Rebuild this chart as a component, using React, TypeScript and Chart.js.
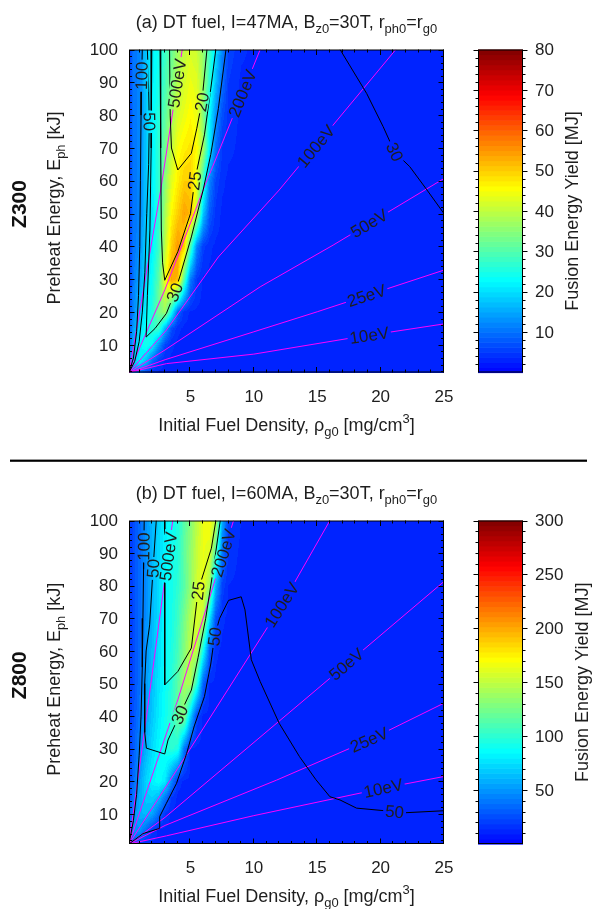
import React, { useEffect, useRef } from 'react';
import { Chart, registerables } from 'chart.js';

Chart.register(...registerables);

type Pt = [number, number];
type Seg = [string, number?];

const FONT = '"Liberation Sans", Arial, Helvetica, sans-serif';
const INK = '#1e1e1e';
const MAGENTA = '#ff00ff';

const X_MIN = 0.15;
const X_MAX = 25;
const Y_MAX = 100;
const X_MAJOR = [5, 10, 15, 20, 25];
const Y_MAJOR = [10, 20, 30, 40, 50, 60, 70, 80, 90, 100];
const X_MINOR_STEP = 1;
const Y_MINOR_STEP = 2;

const X_TITLE: Seg[] = [['Initial Fuel Density, \u03c1'], ['g0', 1], [' [mg/cm'], ['3', 2], [']']];
const Y_TITLE: Seg[] = [['Preheat Energy, E'], ['ph', 1], [' [kJ]']];
const CB_TITLE = 'Fusion Energy Yield [MJ]';

// grid columns of the yield maps (initial fuel density, mg/cm3)
const GRID_X = [0.15, 0.5, 1, 1.5, 2, 2.5, 3, 3.5, 4, 4.5, 5, 5.5, 6, 6.5, 7, 7.5, 8, 9, 10, 25];

// ---------------- panel (a) Z300 ----------------
const A_TITLE: Seg[] = [['(a) DT fuel, I=47MA, B'], ['z0', 1], ['=30T, r'], ['ph0', 1], ['=r'], ['g0', 1]];
const A_Y_MIN = 1.6;
const A_GRID_Y = [1.6, 5, 10, 15, 20, 30, 40, 50, 60, 70, 80, 90, 100];
const A_YIELD = [
  [12, 12, 9, 6, 4, 3.5, 3.5, 3.5, 3.5, 3.5, 3.5, 3.5, 3.5, 3.5, 3.5, 3.5, 3.5, 3.5, 3.5, 3.5],
  [10, 18, 22, 17, 9, 5, 3.5, 3.5, 3.5, 3.5, 3.5, 3.5, 3.5, 3.5, 3.5, 3.5, 3.5, 3.5, 3.5, 3.5],
  [8, 16, 22, 25, 22, 13, 6, 4, 3.5, 3.5, 3.5, 3.5, 3.5, 3.5, 3.5, 3.5, 3.5, 3.5, 3.5, 3.5],
  [7, 14, 20, 24, 27, 28, 16, 7, 4, 3.5, 3.5, 3.5, 3.5, 3.5, 3.5, 3.5, 3.5, 3.5, 3.5, 3.5],
  [6, 12, 18, 22, 26, 33, 37, 24, 9, 4.5, 3.5, 3.5, 3.5, 3.5, 3.5, 3.5, 3.5, 3.5, 3.5, 3.5],
  [5, 11, 15, 20, 24, 31, 44, 54, 52, 30, 11, 5, 3.5, 3.5, 3.5, 3.5, 3.5, 3.5, 3.5, 3.5],
  [5, 10, 13, 19, 22, 28, 40, 50, 55, 50, 30, 12, 5.5, 4, 3.5, 3.5, 3.5, 3.5, 3.5, 3.5],
  [5, 10, 12, 18, 21, 27, 38, 46, 50, 54, 52, 40, 18, 8, 4.5, 3.5, 3.5, 3.5, 3.5, 3.5],
  [5, 10, 12, 18, 22, 27, 35, 43, 47, 50, 50, 44, 28, 12, 6, 4, 3.5, 3.5, 3.5, 3.5],
  [5, 10, 12, 18, 22, 27, 33, 40, 45, 47, 48, 46, 38, 22, 10, 5, 4, 3.5, 3.5, 3.5],
  [5, 10, 12, 18, 22, 26, 31, 37, 42, 44, 46, 44, 35, 23, 13, 7, 4.5, 3.5, 3.5, 3.5],
  [5, 10, 12, 18, 22, 25, 29, 34, 39, 42, 44, 43, 37, 27, 17, 10, 5, 3.5, 3.5, 3.5],
  [5, 10, 12, 18, 22, 24, 28, 32, 37, 40, 42, 41, 36, 28, 20, 12, 6, 4, 3.5, 3.5],
];
const A_CB_MAX = 80;
const A_CB_TICKS = [10, 20, 30, 40, 50, 60, 70, 80];
const A_CB_MINOR_STEP = 2;

const A_C100: Pt[] = [[1.2, 100], [1.15, 92], [1.1, 80], [1.05, 60], [1.0, 40], [0.9, 25], [0.75, 14], [0.5, 6], [0.15, 1.6]];
const A_C50: Pt[] = [[1.6, 100], [1.7, 88], [1.75, 78], [1.7, 65], [1.55, 50], [1.4, 32], [1.2, 20], [0.95, 11], [0.6, 5], [0.15, 1.6]];
const A_C30: Pt[] = [[1.95, 100], [1.9, 70], [1.8, 45], [1.6, 25], [1.5, 12.4], [2.2, 15], [3.1, 19.6], [3.76, 26], [4.15, 30.7], [5.07, 42.9], [6.0, 57.2], [6.6, 68], [7.2, 82], [7.8, 100]];
const A_C25: Pt[] = [[2.6, 100], [2.65, 70], [2.7, 45], [2.8, 35], [2.97, 29.7], [4.0, 38.4], [5.0, 50], [5.33, 60], [6.1, 74], [6.6, 88], [7.0, 100]];
const A_C20: Pt[] = [[3.35, 100], [3.4, 80], [3.5, 70], [4.0, 63.3], [5.07, 68.4], [5.5, 76], [5.9, 84], [6.3, 100]];
const A_C30R: Pt[] = [[16.8, 100], [18.9, 86.6], [20.2, 76.5], [21.1, 68.8], [22.3, 64.3], [23.6, 57.5], [25, 50]];

const A_T10: Pt[] = [[0.15, 1.6], [3.1, 4.3], [10, 7.2], [17.5, 12], [25, 16.4]];
const A_T25: Pt[] = [[0.15, 1.6], [3, 5.5], [10, 14], [15, 20.1], [25, 32.8]];
const A_T50: Pt[] = [[0.15, 1.6], [3, 8.5], [10.5, 27.7], [16.25, 40.4], [25, 60.7]];
const A_T100: Pt[] = [[0.15, 1.6], [3.1, 14.5], [7.2, 36.8], [12, 57.2], [21.2, 100]];
const A_T200: Pt[] = [[0.15, 1.6], [3, 27], [6, 57.2], [10.5, 100]];
const A_T500: Pt[] = [[0.15, 1.6], [1.3, 27], [2.65, 57.2], [4.35, 100]];

// ---------------- panel (b) Z800 ----------------
const B_TITLE: Seg[] = [['(b) DT fuel, I=60MA, B'], ['z0', 1], ['=30T, r'], ['ph0', 1], ['=r'], ['g0', 1]];
const B_Y_MIN = 0.8;
const B_GRID_Y = [0.8, 5, 10, 15, 20, 30, 40, 50, 60, 70, 80, 90, 100];
const B_YIELD = [
  [35, 30, 18, 13, 13, 13, 13, 13, 13, 13, 13, 13, 13, 13, 13, 13, 13, 13, 13, 13],
  [30, 50, 50, 35, 18, 13, 13, 13, 13, 13, 13, 13, 13, 13, 13, 13, 13, 13, 13, 13],
  [25, 45, 60, 62, 55, 35, 18, 13, 13, 13, 13, 13, 13, 13, 13, 13, 13, 13, 13, 13],
  [22, 40, 58, 68, 70, 62, 40, 18, 13, 13, 13, 13, 13, 13, 13, 13, 13, 13, 13, 13],
  [20, 35, 55, 72, 82, 88, 80, 45, 16, 13, 13, 13, 13, 13, 13, 13, 13, 13, 13, 13],
  [18, 30, 45, 60, 75, 85, 92, 100, 95, 40, 14, 13, 13, 13, 13, 13, 13, 13, 13, 13],
  [17, 27, 40, 55, 68, 80, 90, 100, 120, 130, 70, 22, 13, 13, 13, 13, 13, 13, 13, 13],
  [16, 25, 37, 52, 65, 78, 88, 98, 115, 140, 145, 100, 32, 14, 13, 13, 13, 13, 13, 13],
  [16, 25, 36, 50, 63, 76, 86, 95, 108, 130, 150, 150, 90, 32, 15, 13, 13, 13, 13, 13],
  [16, 25, 35, 48, 62, 75, 85, 92, 105, 125, 145, 160, 150, 80, 27, 15, 13, 13, 13, 13],
  [16, 25, 35, 48, 62, 75, 85, 92, 100, 115, 135, 155, 165, 140, 60, 22, 14, 13, 13, 13],
  [16, 25, 35, 48, 62, 73, 83, 90, 97, 118, 135, 152, 165, 160, 110, 40, 17, 13, 13, 13],
  [16, 25, 35, 50, 62, 72, 82, 88, 95, 115, 130, 150, 165, 170, 150, 60, 20, 14, 13, 13],
];
const B_CB_MAX = 300;
const B_CB_TICKS = [50, 100, 150, 200, 250, 300];
const B_CB_MINOR_STEP = 10;

const B_C100: Pt[] = [[1.35, 100], [1.32, 92], [1.3, 85], [1.25, 70], [1.2, 55], [1.1, 40], [0.95, 28], [0.75, 16], [0.5, 8], [0.15, 0.8]];
const B_C50L: Pt[] = [[2.3, 100], [2.05, 85.3], [1.78, 68], [1.5, 60], [1.39, 50], [1.39, 35], [1.52, 30.2], [2.97, 28.4], [3.23, 32.7], [4.15, 40.4], [5.07, 48], [5.6, 58], [6.2, 70], [6.8, 85], [7.35, 100]];
const B_C25: Pt[] = [[2.97, 100], [2.97, 75], [2.97, 49.6], [4.0, 53.7], [5.07, 60.9], [5.6, 78.5], [6.65, 91.5], [7.0, 100]];
const B_C50R: Pt[] = [[0.15, 0.8], [1.26, 4.0], [2.57, 5.6], [2.57, 9.2], [3.1, 13.3], [3.9, 19.4], [4.7, 28.6], [5.3, 37], [6.1, 46], [6.6, 56], [6.9, 64.4], [7.3, 70], [8.0, 75.5], [9.0, 76.6], [9.3, 72.6], [9.8, 57.3], [10.5, 50.6], [12.0, 37.8], [13.6, 27.6], [14.9, 20.5], [16.0, 15.3], [16.8, 14.3], [18.1, 11.8], [22, 10.4], [25, 11.0]];

const B_T10: Pt[] = [[0.15, 0.8], [3.1, 3.3], [10, 9.5], [20.2, 17.9], [25, 21.5]];
const B_T25: Pt[] = [[0.15, 0.8], [3, 6.5], [11.8, 20.4], [19.1, 32.7], [25, 44]];
const B_T50: Pt[] = [[0.15, 0.8], [3, 9], [14.9, 48], [25, 81.3]];
const B_T100: Pt[] = [[0.15, 0.8], [4, 24], [12.2, 74.1], [16, 100]];
const B_T200: Pt[] = [[0.15, 0.8], [4, 45], [8.4, 100]];
const B_T500: Pt[] = [[0.15, 0.8], [1.6, 42], [3.6, 100]];

interface Label { t: string; x: number; y: number; line: Pt[]; }

const A_LABELS: Label[] = [
  { t: '100', x: 1.15, y: 92, line: A_C100 },
  { t: '50', x: 1.75, y: 78, line: A_C50 },
  { t: '20', x: 5.9, y: 84, line: A_C20 },
  { t: '25', x: 5.33, y: 60, line: A_C25 },
  { t: '30', x: 3.76, y: 26, line: A_C30 },
  { t: '30', x: 21.1, y: 68.8, line: A_C30R },
  { t: '500eV', x: 3.94, y: 89.7, line: A_T500 },
  { t: '200eV', x: 9.1, y: 86.6, line: A_T200 },
  { t: '100eV', x: 14.9, y: 70.5, line: A_T100 },
  { t: '50eV', x: 19.1, y: 47, line: A_T50 },
  { t: '25eV', x: 18.9, y: 25, line: A_T25 },
  { t: '10eV', x: 19.1, y: 12.9, line: A_T10 },
];

const B_LABELS: Label[] = [
  { t: '100', x: 1.32, y: 92, line: B_C100 },
  { t: '50', x: 2.05, y: 85.3, line: B_C50L },
  { t: '30', x: 4.15, y: 40.4, line: B_C50L },
  { t: '25', x: 5.6, y: 78.5, line: B_C25 },
  { t: '50', x: 6.9, y: 64.4, line: B_C50R },
  { t: '50', x: 21.1, y: 10.7, line: B_C50R },
  { t: '500eV', x: 3.25, y: 89, line: B_T500 },
  { t: '200eV', x: 7.6, y: 90, line: B_T200 },
  { t: '100eV', x: 12.2, y: 74.1, line: B_T100 },
  { t: '50eV', x: 17.3, y: 55.9, line: B_T50 },
  { t: '25eV', x: 19.1, y: 32.7, line: B_T25 },
  { t: '10eV', x: 20.2, y: 17.9, line: B_T10 },
];

interface Panel {
  title: Seg[]; machine: string; yMin: number; gridY: number[]; yieldRows: number[][];
  cbMax: number; cbTicks: number[]; cbMinorStep: number;
  contours: Pt[][]; temps: Pt[][]; labels: Label[];
  canvasTop: number; canvasH: number; plotTop: number; plotBottom: number;
  cbTitleX: number; separator: boolean;
}

const PANEL_A: Panel = {
  title: A_TITLE, machine: 'Z300', yMin: A_Y_MIN, gridY: A_GRID_Y, yieldRows: A_YIELD,
  cbMax: A_CB_MAX, cbTicks: A_CB_TICKS, cbMinorStep: A_CB_MINOR_STEP,
  contours: [A_C100, A_C50, A_C30, A_C25, A_C20, A_C30R],
  temps: [A_T10, A_T25, A_T50, A_T100, A_T200, A_T500],
  labels: A_LABELS, canvasTop: 0, canvasH: 462, plotTop: 49.5, plotBottom: 372.5,
  cbTitleX: 578, separator: true,
};

const PANEL_B: Panel = {
  title: B_TITLE, machine: 'Z800', yMin: B_Y_MIN, gridY: B_GRID_Y, yieldRows: B_YIELD,
  cbMax: B_CB_MAX, cbTicks: B_CB_TICKS, cbMinorStep: B_CB_MINOR_STEP,
  contours: [B_C100, B_C50L, B_C25, B_C50R],
  temps: [B_T10, B_T25, B_T50, B_T100, B_T200, B_T500],
  labels: B_LABELS, canvasTop: 462, canvasH: 447, plotTop: 58.5, plotBottom: 382,
  cbTitleX: 588, separator: false,
};

const PLOT_LEFT = 129;
const PLOT_RIGHT = 444;
const CB_LEFT = 478;
const CB_RIGHT = 523;

function jet(v: number, vmax: number): [number, number, number] {
  const f = Math.max(0, Math.min(0.99999, v / vmax));
  const k = Math.floor(f * 64);
  return jetLevel(k);
}
function jetLevel(k: number): [number, number, number] {
  const t = 0.125 + 0.875 * ((k + 0.5) / 64);
  const c = (a: number) => Math.max(0, Math.min(1, 1.5 - Math.abs(4 * t - a))) * 255;
  return [c(3), c(2), c(1)];
}

function locate(arr: number[], v: number): [number, number] {
  if (v <= arr[0]) return [0, 0];
  for (let i = 0; i < arr.length - 1; i++) {
    if (v <= arr[i + 1]) return [i, (v - arr[i]) / (arr[i + 1] - arr[i])];
  }
  return [arr.length - 2, 1];
}

function font(size: number, weight = 'normal') {
  return `${weight} ${size}px ${FONT}`;
}

function drawRich(ctx: CanvasRenderingContext2D, segs: Seg[], x: number, y: number, size: number, align: 'left' | 'center') {
  const sizes = segs.map(([, k]) => (k ? size * 0.72 : size));
  const widths = segs.map(([t], i) => { ctx.font = font(sizes[i]); return ctx.measureText(t).width; });
  const total = widths.reduce((a, b) => a + b, 0);
  let cx = align === 'center' ? x - total / 2 : x;
  ctx.textAlign = 'left';
  ctx.textBaseline = 'alphabetic';
  segs.forEach(([t, k], i) => {
    ctx.font = font(sizes[i]);
    const dy = k === 1 ? size * 0.3 : k === 2 ? -size * 0.42 : 0;
    ctx.fillText(t, cx, y + dy);
    cx += widths[i];
  });
}

function makePlugin(p: Panel) {
  const LABEL_SIZE = 17;
  const geom = (chart: any) => {
    const xs = chart.scales.x, ys = chart.scales.y;
    const ctx: CanvasRenderingContext2D = chart.ctx;
    ctx.font = font(LABEL_SIZE);
    return p.labels.map((l) => {
      const lx = xs.getPixelForValue(l.x), ly = ys.getPixelForValue(l.y);
      const pts = l.line.map(([a, b]) => [xs.getPixelForValue(a), ys.getPixelForValue(b)]);
      let best = Infinity, ang = 0;
      for (let i = 0; i < pts.length - 1; i++) {
        const [x1, y1] = pts[i], [x2, y2] = pts[i + 1];
        const dx = x2 - x1, dy = y2 - y1;
        const L2 = dx * dx + dy * dy || 1;
        let s = ((lx - x1) * dx + (ly - y1) * dy) / L2;
        s = Math.max(0, Math.min(1, s));
        const d = Math.hypot(x1 + s * dx - lx, y1 + s * dy - ly);
        if (d < best) { best = d; ang = Math.atan2(dy, dx); }
      }
      if (ang > Math.PI / 2) ang -= Math.PI;
      if (ang <= -Math.PI / 2) ang += Math.PI;
      const w = ctx.measureText(l.t).width;
      return { t: l.t, lx, ly, ang, w };
    });
  };

  return {
    id: 'panel' + p.machine,
    beforeDatasetsDraw(chart: any) {
      const ctx: CanvasRenderingContext2D = chart.ctx;
      const xs = chart.scales.x, ys = chart.scales.y;
      const { left, right, top, bottom } = chart.chartArea;
      const x0 = Math.round(left), y0 = Math.round(top);
      const w = Math.round(right) - x0, h = Math.round(bottom) - y0;
      const img = ctx.createImageData(w, h);
      const cols = [] as [number, number][];
      const rows = [] as [number, number][];
      for (let i = 0; i < w; i++) cols.push(locate(GRID_X, xs.getValueForPixel(x0 + i + 0.5)));
      for (let j = 0; j < h; j++) rows.push(locate(p.gridY, ys.getValueForPixel(y0 + j + 0.5)));
      const Z = p.yieldRows;
      for (let j = 0; j < h; j++) {
        const [rj, fy] = rows[j];
        for (let i = 0; i < w; i++) {
          const [ci, fx] = cols[i];
          const v = (1 - fx) * (1 - fy) * Z[rj][ci] + fx * (1 - fy) * Z[rj][ci + 1]
            + (1 - fx) * fy * Z[rj + 1][ci] + fx * fy * Z[rj + 1][ci + 1];
          const [r, g, b] = jet(v, p.cbMax);
          const o = (j * w + i) * 4;
          img.data[o] = r; img.data[o + 1] = g; img.data[o + 2] = b; img.data[o + 3] = 255;
        }
      }
      ctx.putImageData(img, x0, y0);

      // clip out label gaps in the lines
      const gs = geom(chart);
      ctx.save();
      ctx.beginPath();
      ctx.rect(0, 0, chart.width, chart.height);
      gs.forEach((g) => {
        const hw = g.w / 2 + 2, hh = 7;
        const c = Math.cos(g.ang), s = Math.sin(g.ang);
        const corners = [[-hw, -hh], [hw, -hh], [hw, hh], [-hw, hh]].map(([a, b]) => [g.lx + a * c - b * s, g.ly + a * s + b * c]);
        ctx.moveTo(corners[0][0], corners[0][1]);
        for (let k = 1; k < 4; k++) ctx.lineTo(corners[k][0], corners[k][1]);
        ctx.closePath();
      });
      ctx.clip('evenodd');
    },
    afterDatasetsDraw(chart: any) {
      const ctx: CanvasRenderingContext2D = chart.ctx;
      ctx.restore();
      const xs = chart.scales.x, ys = chart.scales.y, cb = chart.scales.cb;
      const { left, right, top, bottom } = chart.chartArea;

      // contour / temperature labels
      const gs = geom(chart);
      ctx.fillStyle = INK;
      ctx.font = font(LABEL_SIZE);
      gs.forEach((g) => {
        ctx.save();
        ctx.translate(g.lx, g.ly);
        ctx.rotate(g.ang);
        ctx.textAlign = 'center';
        ctx.textBaseline = 'middle';
        ctx.fillText(g.t, 0, 1);
        ctx.restore();
      });

      // frame
      ctx.strokeStyle = '#000';
      ctx.lineWidth = 1;
      ctx.strokeRect(left + 0.5, top + 0.5, right - left - 1, bottom - top - 1);

      // ticks (inward, mirrored)
      ctx.beginPath();
      const xt = (v: number, len: number) => {
        const X = Math.round(xs.getPixelForValue(v)) - 0.5;
        ctx.moveTo(X, bottom); ctx.lineTo(X, bottom - len);
        ctx.moveTo(X, top); ctx.lineTo(X, top + len);
      };
      const yt = (v: number, len: number) => {
        const Y = Math.round(ys.getPixelForValue(v)) + 0.5;
        ctx.moveTo(left, Y); ctx.lineTo(left + len, Y);
        ctx.moveTo(right, Y); ctx.lineTo(right - len, Y);
      };
      for (let v = 1; v < X_MAX; v += X_MINOR_STEP) if (!X_MAJOR.includes(v)) xt(v, 3);
      X_MAJOR.forEach((v) => xt(v, 5.5));
      for (let v = 2; v < Y_MAX; v += Y_MINOR_STEP) if (!Y_MAJOR.includes(v)) yt(v, 3);
      Y_MAJOR.forEach((v) => yt(v, 5.5));
      ctx.stroke();

      // tick labels
      ctx.fillStyle = INK;
      ctx.font = font(17);
      ctx.textAlign = 'center';
      ctx.textBaseline = 'alphabetic';
      X_MAJOR.forEach((v) => ctx.fillText(String(v), xs.getPixelForValue(v), bottom + 29));
      ctx.textAlign = 'right';
      ctx.textBaseline = 'middle';
      Y_MAJOR.forEach((v) => ctx.fillText(String(v), left - 11, ys.getPixelForValue(v) + 1));

      // colour bar
      const cbTop = cb.getPixelForValue(p.cbMax), cbBot = cb.getPixelForValue(0);
      for (let k = 0; k < 64; k++) {
        const yA = cb.getPixelForValue((k / 64) * p.cbMax);
        const yB = cb.getPixelForValue(((k + 1) / 64) * p.cbMax);
        const [r, g, b] = jetLevel(k);
        ctx.fillStyle = `rgb(${r},${g},${b})`;
        ctx.fillRect(CB_LEFT, yB, CB_RIGHT - CB_LEFT, yA - yB + 0.6);
      }
      ctx.strokeStyle = '#000';
      ctx.strokeRect(CB_LEFT + 0.5, cbTop + 0.5, CB_RIGHT - CB_LEFT - 1, cbBot - cbTop - 1);
      ctx.beginPath();
      const ct = (v: number, len: number) => {
        const Y = Math.round(cb.getPixelForValue(v)) + 0.5;
        ctx.moveTo(CB_LEFT, Y); ctx.lineTo(CB_LEFT - len, Y);
        ctx.moveTo(CB_RIGHT, Y); ctx.lineTo(CB_RIGHT + len, Y);
      };
      for (let v = p.cbMinorStep; v < p.cbMax; v += p.cbMinorStep) if (!p.cbTicks.includes(v)) ct(v, 2.5);
      p.cbTicks.forEach((v) => ct(v, 4.5));
      ctx.stroke();
      ctx.fillStyle = INK;
      ctx.font = font(17);
      ctx.textAlign = 'left';
      ctx.textBaseline = 'middle';
      p.cbTicks.forEach((v) => ctx.fillText(String(v), 535, cb.getPixelForValue(v) + 1));

      const midY = (top + bottom) / 2;
      // colour bar title
      ctx.save();
      ctx.translate(p.cbTitleX, midY);
      ctx.rotate(-Math.PI / 2);
      ctx.font = font(18);
      ctx.textAlign = 'center';
      ctx.textBaseline = 'alphabetic';
      ctx.fillText(CB_TITLE, 0, 0);
      ctx.restore();

      // y title
      ctx.save();
      ctx.translate(59.5, midY - 3);
      ctx.rotate(-Math.PI / 2);
      drawRich(ctx, Y_TITLE, 0, 0, 18, 'center');
      ctx.restore();

      // machine name
      ctx.save();
      ctx.translate(25.5, midY - 7);
      ctx.rotate(-Math.PI / 2);
      ctx.font = font(21, 'bold');
      ctx.textAlign = 'center';
      ctx.textBaseline = 'alphabetic';
      ctx.fillStyle = '#111';
      ctx.fillText(p.machine, 0, 0);
      ctx.restore();

      // x title and panel title
      ctx.fillStyle = INK;
      drawRich(ctx, X_TITLE, (left + right) / 2, bottom + 58, 18, 'center');
      drawRich(ctx, p.title, (left + right) / 2, top - 22, 18, 'center');

      if (p.separator) {
        ctx.fillStyle = '#000';
        ctx.fillRect(10, 459.6, 577, 2.2);
      }
    },
  };
}

function buildConfig(p: Panel): any {
  const toXY = (pts: Pt[]) => pts.map(([x, y]) => ({ x, y }));
  const line = (pts: Pt[], color: string) => ({
    data: toXY(pts), borderColor: color, backgroundColor: color, borderWidth: 1,
    showLine: true, pointRadius: 0, pointHoverRadius: 0, fill: false, tension: 0,
  });
  const hidden = { grid: { display: false, drawTicks: false }, ticks: { display: false }, border: { display: false } };
  return {
    type: 'scatter',
    data: {
      datasets: [
        ...p.contours.map((c) => line(c, '#000000')),
        ...p.temps.map((c) => line(c, MAGENTA)),
      ],
    },
    options: {
      responsive: false,
      maintainAspectRatio: false,
      animation: false,
      devicePixelRatio: 1,
      events: [],
      layout: { padding: { left: PLOT_LEFT, right: 592 - PLOT_RIGHT, top: p.plotTop, bottom: p.canvasH - p.plotBottom } },
      plugins: { legend: { display: false }, tooltip: { enabled: false }, title: { display: false } },
      scales: {
        x: { type: 'linear', position: 'bottom', min: X_MIN, max: X_MAX, ...hidden, afterFit: (s: any) => { s.height = 0; } },
        y: { type: 'linear', position: 'left', min: p.yMin, max: Y_MAX, ...hidden, afterFit: (s: any) => { s.width = 0; } },
        cb: { type: 'linear', axis: 'y', position: 'right', min: 0, max: p.cbMax, ...hidden, afterFit: (s: any) => { s.width = 0; } },
      },
    },
    plugins: [makePlugin(p)],
  };
}

function PanelChart({ panel }: { panel: Panel }) {
  const ref = useRef<HTMLCanvasElement>(null);
  useEffect(() => {
    const chart = new Chart(ref.current as HTMLCanvasElement, buildConfig(panel));
    return () => chart.destroy();
  }, [panel]);
  return (
    <canvas
      ref={ref}
      width={592}
      height={panel.canvasH}
      style={{ position: 'absolute', left: 0, top: panel.canvasTop, width: 592, height: panel.canvasH }}
    />
  );
}

export default function App() {
  return (
    <div style={{ position: 'absolute', left: 0, top: 0, width: 592, height: 909, background: '#fff', overflow: 'hidden' }}>
      <PanelChart panel={PANEL_A} />
      <PanelChart panel={PANEL_B} />
    </div>
  );
}
